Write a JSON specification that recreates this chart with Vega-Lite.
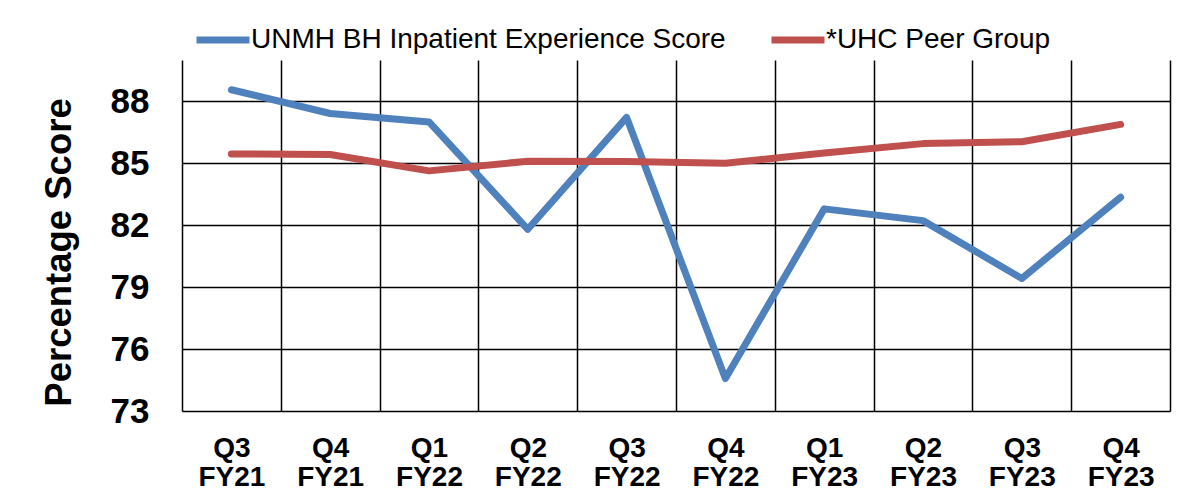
{
  "$schema": "https://vega.github.io/schema/vega-lite/v6.json",
  "width": 988,
  "height": 351,
  "autosize": {"type": "none"},
  "padding": {"left": 182, "top": 60, "right": 10, "bottom": 91},
  "background": "white",
  "config": {
    "font": "Liberation Sans",
    "view": {"stroke": null}
  },
  "data": {
    "values": [
      {"quarter": "Q3 FY21", "series": "UNMH BH Inpatient Experience Score", "score": 88.56},
      {"quarter": "Q4 FY21", "series": "UNMH BH Inpatient Experience Score", "score": 87.41},
      {"quarter": "Q1 FY22", "series": "UNMH BH Inpatient Experience Score", "score": 87.0},
      {"quarter": "Q2 FY22", "series": "UNMH BH Inpatient Experience Score", "score": 81.8},
      {"quarter": "Q3 FY22", "series": "UNMH BH Inpatient Experience Score", "score": 87.22},
      {"quarter": "Q4 FY22", "series": "UNMH BH Inpatient Experience Score", "score": 74.57},
      {"quarter": "Q1 FY23", "series": "UNMH BH Inpatient Experience Score", "score": 82.79},
      {"quarter": "Q2 FY23", "series": "UNMH BH Inpatient Experience Score", "score": 82.22},
      {"quarter": "Q3 FY23", "series": "UNMH BH Inpatient Experience Score", "score": 79.42},
      {"quarter": "Q4 FY23", "series": "UNMH BH Inpatient Experience Score", "score": 83.35},
      {"quarter": "Q3 FY21", "series": "*UHC Peer Group", "score": 85.45},
      {"quarter": "Q4 FY21", "series": "*UHC Peer Group", "score": 85.42},
      {"quarter": "Q1 FY22", "series": "*UHC Peer Group", "score": 84.63},
      {"quarter": "Q2 FY22", "series": "*UHC Peer Group", "score": 85.1},
      {"quarter": "Q3 FY22", "series": "*UHC Peer Group", "score": 85.08},
      {"quarter": "Q4 FY22", "series": "*UHC Peer Group", "score": 85.0},
      {"quarter": "Q1 FY23", "series": "*UHC Peer Group", "score": 85.5},
      {"quarter": "Q2 FY23", "series": "*UHC Peer Group", "score": 85.95},
      {"quarter": "Q3 FY23", "series": "*UHC Peer Group", "score": 86.04},
      {"quarter": "Q4 FY23", "series": "*UHC Peer Group", "score": 86.88}
    ]
  },
  "mark": {"type": "line", "strokeWidth": 7, "strokeCap": "round", "strokeJoin": "round"},
  "encoding": {
    "x": {
      "field": "quarter",
      "type": "nominal",
      "sort": null,
      "scale": {"type": "band", "paddingInner": 0, "paddingOuter": 0},
      "axis": {
        "title": null,
        "labelAngle": 0,
        "labelExpr": "split(datum.label, ' ')",
        "labelFontSize": 28,
        "labelFontWeight": "bold",
        "labelColor": "#000000",
        "labelLineHeight": 29,
        "labelPadding": 23,
        "ticks": false,
        "domain": false,
        "grid": true,
        "tickBand": "extent",
        "gridColor": "#000000",
        "gridWidth": 1.5,
        "gridOpacity": 1
      }
    },
    "y": {
      "field": "score",
      "type": "quantitative",
      "scale": {"domain": [73, 90], "nice": false, "zero": false},
      "axis": {
        "title": "Percentage Score",
        "values": [73, 76, 79, 82, 85, 88],
        "labelFontSize": 35,
        "labelFontWeight": "bold",
        "labelColor": "#000000",
        "labelPadding": 33,
        "ticks": false,
        "domain": false,
        "grid": true,
        "gridColor": "#000000",
        "gridWidth": 1.5,
        "gridOpacity": 1,
        "titleFontSize": 36.5,
        "titleFontWeight": "bold",
        "titleColor": "#000000",
        "titleAngle": -90,
        "titleAlign": "center",
        "titleBaseline": "alphabetic",
        "titleX": -112,
        "titleY": 192
      }
    },
    "color": {
      "field": "series",
      "type": "nominal",
      "scale": {
        "domain": ["UNMH BH Inpatient Experience Score", "*UHC Peer Group"],
        "range": ["#4F81BD", "#C0504D"]
      },
      "legend": {
        "title": null,
        "orient": "none",
        "direction": "horizontal",
        "legendX": 11,
        "legendY": -50,
        "symbolType": "stroke",
        "symbolSize": 2809,
        "symbolStrokeWidth": 7,
        "labelFontSize": 28,
        "labelColor": "#000000",
        "labelOffset": -2,
        "columnPadding": 31,
        "labelLimit": 1000
      }
    }
  }
}
